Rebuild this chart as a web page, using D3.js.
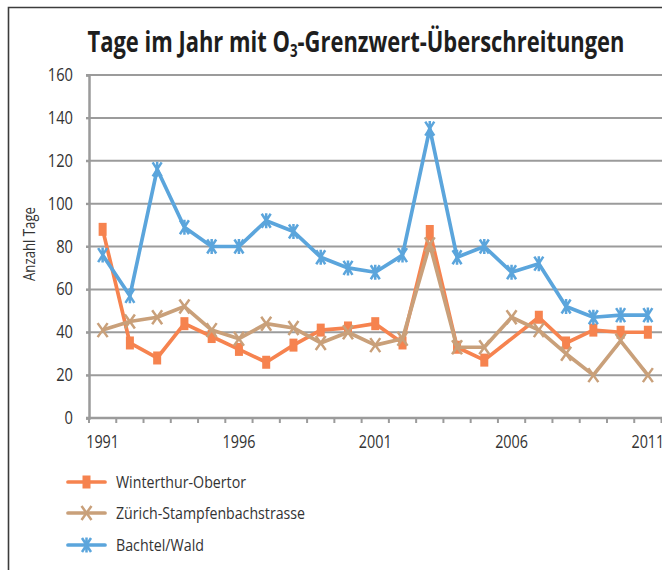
<!DOCTYPE html>
<html>
<head>
<meta charset="utf-8">
<script src="https://cdn.jsdelivr.net/npm/d3@7"></script>
<style>
  body { margin: 0; background: #fff; }
  svg { display: block; font-family: 'Open Sans', sans-serif; }
</style>
</head>
<body>
<div id="chart"></div>
<script>
var years = d3.range(1991, 2012);
var yTicks = [0, 20, 40, 60, 80, 100, 120, 140, 160];
var xLabels = [1991, 1996, 2001, 2006, 2011];

var winterthur = [88, 35, 28, 44, 38, 32, 26, 34, 41, 42, 44, 35, 87, 33, 27, null, 47, 35, 41, 40, 40];
var zuerich = [41, 45, 47, 52, 41, 37, 44, 42, 35, 40, 34, 37, 81, 33, 33, 47, 41, 30, 20, 36, 20];
var bachtel = [76, 57, 116, 89, 80, 80, 92, 87, 75, 70, 68, 76, 135, 75, 80, 68, 72, 52, 47, 48, 48];

var series = [
  { name: 'Winterthur-Obertor', values: winterthur, color: '#f6834f', marker: 'square', legendW: 130 },
  { name: 'Zürich-Stampfenbachstrasse', values: zuerich, color: '#c9a07a', marker: 'x', legendW: 189 },
  { name: 'Bachtel/Wald', values: bachtel, color: '#5ba5dc', marker: 'star', legendW: 88 }
];

var width = 662,
  height = 570,
  plotLeft = 89,
  plotRight = 661.5,
  plotTop = 75,
  plotBottom = 418,
  gridColor = '#9b9b9b',
  textColor = '#333';

var svg = d3.select('#chart').append('svg')
  .attr('width', width)
  .attr('height', height);

// frame, cut off on the right and at the bottom
svg.append('path')
  .attr('d', 'M8.5,' + height + 'V7.5H' + width)
  .attr('fill', 'none')
  .attr('stroke', '#3c3c3c')
  .attr('stroke-width', 1.6);

// squeeze text horizontally, the source chart is condensed
function squeeze(sel, f) {
  sel.each(function () {
    var w = this.getComputedTextLength();
    d3.select(this)
      .attr('textLength', w * f)
      .attr('lengthAdjust', 'spacingAndGlyphs');
  });
}

var title = svg.append('text')
  .attr('x', 356)
  .attr('y', 52)
  .attr('text-anchor', 'middle')
  .attr('font-size', 28)
  .attr('font-weight', 'bold')
  .attr('fill', '#1e1e1e')
  .attr('textLength', 537)
  .attr('lengthAdjust', 'spacingAndGlyphs');
title.append('tspan').text('Tage im Jahr mit O');
title.append('tspan').attr('font-size', 17).attr('dy', 5).text('3');
title.append('tspan').attr('dy', -5).text('-Grenzwert-Überschreitungen');

var x = d3.scaleBand()
  .domain(years)
  .range([plotLeft, plotRight]);

var y = d3.scaleLinear()
  .domain([0, 160])
  .range([plotBottom, plotTop]);

// gridlines
svg.append('g').selectAll('line')
    .data(yTicks.slice(1))
  .enter().append('line')
    .attr('x1', plotLeft - 3)
    .attr('x2', width)
    .attr('y1', function (d) { return y(d); })
    .attr('y2', function (d) { return y(d); })
    .attr('stroke', gridColor)
    .attr('stroke-width', 2);

// y axis
var yAxis = svg.append('g')
  .attr('transform', 'translate(' + plotLeft + ',0)')
  .call(d3.axisLeft(y).tickValues(yTicks).tickSize(3).tickPadding(13));
yAxis.select('.domain').attr('stroke', gridColor).attr('stroke-width', 2.5);
yAxis.selectAll('.tick line').attr('stroke', gridColor).attr('stroke-width', 2);
yAxis.selectAll('.tick text')
  .attr('font-size', 17.5)
  .attr('fill', textColor)
  .attr('font-family', 'Open Sans');
squeeze(yAxis.selectAll('.tick text'), 0.84);

// x axis: ticks at band edges, labels at band centres
var xAxis = svg.append('g')
  .attr('transform', 'translate(0,' + plotBottom + ')');
xAxis.append('line')
  .attr('x1', plotLeft - 3)
  .attr('x2', width)
  .attr('stroke', gridColor)
  .attr('stroke-width', 2.5);
xAxis.selectAll('.edge')
    .data(years.concat([2012]))
  .enter().append('line')
    .attr('class', 'edge')
    .attr('x1', function (d) { return d === 2012 ? plotRight : x(d); })
    .attr('x2', function (d) { return d === 2012 ? plotRight : x(d); })
    .attr('y1', 0)
    .attr('y2', 5)
    .attr('stroke', gridColor)
    .attr('stroke-width', 2);
var xText = xAxis.selectAll('.lbl')
    .data(xLabels)
  .enter().append('text')
    .attr('class', 'lbl')
    .attr('x', function (d) { return x(d) + x.bandwidth() / 2; })
    .attr('y', 30)
    .attr('text-anchor', 'middle')
    .attr('font-size', 17.5)
    .attr('fill', textColor)
    .text(function (d) { return d; });
squeeze(xText, 0.82);

svg.append('text')
  .attr('transform', 'translate(35,244) rotate(-90)')
  .attr('text-anchor', 'middle')
  .attr('font-size', 16.5)
  .attr('fill', textColor)
  .attr('textLength', 74)
  .attr('lengthAdjust', 'spacingAndGlyphs')
  .text('Anzahl Tage');

var line = d3.line()
  .x(function (d) { return x(d.year) + x.bandwidth() / 2; })
  .y(function (d) { return y(d.value); });

function points(s) {
  return s.values
    .map(function (v, i) { return { year: years[i], value: v }; })
    .filter(function (d) { return d.value !== null; });
}

function drawMarker(g, type, color) {
  if (type === 'square') {
    g.append('rect')
      .attr('x', -4).attr('y', -6.5)
      .attr('width', 8).attr('height', 13)
      .attr('fill', color);
  } else if (type === 'x') {
    g.append('path')
      .attr('d', 'M-5,-7L5,7M-5,7L5,-7')
      .attr('stroke', color)
      .attr('stroke-width', 2.5)
      .attr('fill', 'none');
  } else {
    g.append('path')
      .attr('d', 'M-4.5,-7L4.5,7M-4.5,7L4.5,-7M0,-7.5V7.5')
      .attr('stroke', color)
      .attr('stroke-width', 2.5)
      .attr('fill', 'none');
  }
}

var plot = svg.append('g');

series.forEach(function (s) {
  var data = points(s);
  plot.append('path')
    .datum(data)
    .attr('d', line)
    .attr('fill', 'none')
    .attr('stroke', s.color)
    .attr('stroke-width', 3.7)
    .attr('stroke-linejoin', 'round');

  plot.append('g').selectAll('g')
      .data(data)
    .enter().append('g')
      .attr('transform', function (d) {
        return 'translate(' + (x(d.year) + x.bandwidth() / 2) + ',' + y(d.value) + ')';
      })
      .each(function () { drawMarker(d3.select(this), s.marker, s.color); });
});

// legend
var legend = svg.append('g').selectAll('g')
    .data(series)
  .enter().append('g')
    .attr('transform', function (d, i) { return 'translate(0,' + [482, 513, 545][i] + ')'; });

legend.append('line')
  .attr('x1', 68).attr('x2', 105)
  .attr('stroke', function (d) { return d.color; })
  .attr('stroke-width', 3.7)
  .attr('stroke-linecap', 'round');

legend.each(function (d) {
  var g = d3.select(this).append('g').attr('transform', 'translate(86.5,0)');
  drawMarker(g, d.marker, d.color);
});

legend.append('text')
  .attr('x', 116)
  .attr('y', 6)
  .attr('font-size', 16.5)
  .attr('fill', textColor)
  .attr('textLength', function (d) { return d.legendW; })
  .attr('lengthAdjust', 'spacingAndGlyphs')
  .text(function (d) { return d.name; });
</script>
</body>
</html>
